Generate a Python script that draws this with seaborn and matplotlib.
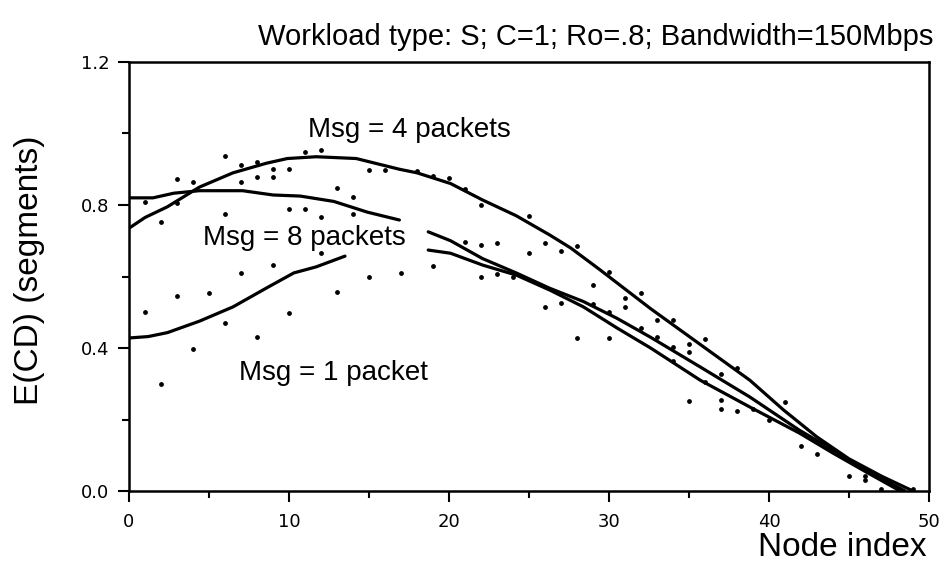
import numpy as np
import pandas as pd
import matplotlib
matplotlib.use("Agg")
import matplotlib.pyplot as plt
from matplotlib.ticker import MultipleLocator, FormatStrFormatter
import seaborn as sns

# Expected collision delay curves per message size (NaN marks a break in the trace)
msg4_x = [0, 1, 2.4, 4.4, 6.5, 8.6, 9.9, 11.7, 14.2, 16.9, 18, 20.1, 22.1, 24.2,
          26.3, 27.6, 29.4, 32.6, 35.7, 38.8, 40.9, 43, 45, 47.1, 49]
msg4_y = [0.735, 0.765, 0.795, 0.85, 0.89, 0.917, 0.93, 0.935, 0.93, 0.90, 0.89,
          0.86, 0.814, 0.77, 0.716, 0.68, 0.62, 0.51, 0.41, 0.31, 0.227, 0.151,
          0.09, 0.04, 0.0]

msg8_x = [0, 1.5, 2.8, 4.4, 7.1, 9, 10.7, 12.8, 14.9, 16.9, np.nan, 18.7, 20.1,
          22.1, 24.2, 26.3, 28.4, 30.5, 32.6, 35.7, 38.8, 41.9, 44, 46, 48.5]
msg8_y = [0.82, 0.82, 0.833, 0.84, 0.84, 0.828, 0.825, 0.81, 0.78, 0.758, np.nan,
          0.725, 0.70, 0.65, 0.61, 0.567, 0.53, 0.483, 0.43, 0.347, 0.263, 0.17,
          0.115, 0.06, 0.0]

msg1_x = [0, 1.2, 2.4, 4.4, 6.5, 8.6, 10.3, 11.7, 13.5, np.nan, 18.7, 20.1, 22.1,
          24.2, 26.3, 28.4, 30.5, 32.6, 35.7, 38.8, 41.9, 44, 46, 48.2]
msg1_y = [0.428, 0.432, 0.443, 0.475, 0.515, 0.568, 0.61, 0.627, 0.657, np.nan,
          0.674, 0.665, 0.632, 0.604, 0.562, 0.515, 0.456, 0.40, 0.31, 0.235,
          0.162, 0.106, 0.055, 0.0]

# Simulated samples per node
dot_x = [1, 1, 2, 2, 3, 3, 3, 4, 4, 5, 6, 6, 6, 7, 7, 7, 8, 8, 8, 9, 9, 9,
         10, 10, 10, 11, 11, 12, 12, 12, 13, 13, 14, 14, 15, 15, 16, 17, 18,
         19, 19, 20, 21, 21, 22, 22, 22, 23, 23, 24, 25, 25, 26, 26, 27, 27,
         28, 28, 29, 29, 30, 30, 30, 31, 31, 32, 32, 33, 33, 34, 34, 34, 35,
         35, 35, 36, 36, 37, 37, 37, 38, 38, 39, 40, 41, 42, 43, 45, 46, 46,
         47, 49]
dot_y = [0.807, 0.50, 0.753, 0.30, 0.872, 0.806, 0.545, 0.863, 0.397, 0.553,
         0.937, 0.776, 0.47, 0.912, 0.863, 0.61, 0.92, 0.878, 0.43, 0.90, 0.878,
         0.632, 0.90, 0.79, 0.498, 0.948, 0.79, 0.954, 0.767, 0.665, 0.848,
         0.557, 0.823, 0.774, 0.898, 0.60, 0.898, 0.61, 0.895, 0.88, 0.63,
         0.875, 0.845, 0.696, 0.80, 0.688, 0.60, 0.695, 0.607, 0.60, 0.77,
         0.666, 0.694, 0.515, 0.671, 0.526, 0.686, 0.428, 0.576, 0.523, 0.613,
         0.50, 0.428, 0.54, 0.515, 0.553, 0.456, 0.478, 0.43, 0.478, 0.403,
         0.364, 0.41, 0.389, 0.253, 0.425, 0.305, 0.327, 0.255, 0.229, 0.344,
         0.224, 0.229, 0.199, 0.25, 0.125, 0.103, 0.043, 0.042, 0.03, 0.006,
         0.005]

labels = ["Msg = 4 packets", "Msg = 8 packets", "Msg = 1 packet"]


def to_frame(name, xs, ys):
    xs = np.asarray(xs, float)
    ys = np.asarray(ys, float)
    seg = np.cumsum(np.isnan(xs))
    df = pd.DataFrame({"node": xs, "ecd": ys, "seg": [f"{name}-{s}" for s in seg]})
    return df.dropna()


curves = pd.concat([
    to_frame("m4", msg4_x, msg4_y),
    to_frame("m8", msg8_x, msg8_y),
    to_frame("m1", msg1_x, msg1_y),
], ignore_index=True)
dots = pd.DataFrame({"node": dot_x, "ecd": dot_y})

sns.set_style("ticks")
plt.rcParams["font.family"] = ["Liberation Sans", "DejaVu Sans"]
plt.rcParams["text.color"] = "black"
plt.rcParams["axes.labelcolor"] = "black"
plt.rcParams["xtick.color"] = "black"
plt.rcParams["ytick.color"] = "black"

fig = plt.figure(figsize=(9.48, 5.86), dpi=100)
ax = fig.add_axes([129 / 948, 1 - 491 / 586, 800 / 948, 429 / 586])

sns.lineplot(data=curves, x="node", y="ecd", units="seg", estimator=None,
             sort=False, color="black", linewidth=2.3, ax=ax)
sns.scatterplot(data=dots, x="node", y="ecd", color="black", s=12,
                linewidth=0, ax=ax, zorder=3)

ax.set_xlim(0, 50)
ax.set_ylim(0, 1.2)
ax.xaxis.set_major_locator(MultipleLocator(10))
ax.xaxis.set_minor_locator(MultipleLocator(5))
ax.yaxis.set_major_locator(MultipleLocator(0.4))
ax.yaxis.set_minor_locator(MultipleLocator(0.2))
ax.yaxis.set_major_formatter(FormatStrFormatter("%.1f"))
ax.tick_params(which="major", direction="out", length=8, width=1.5,
               color="black", labelsize=13, labelcolor="black")
ax.tick_params(which="minor", direction="out", length=5, width=1.5, color="black")
ax.tick_params(axis="x", pad=8)
ax.tick_params(axis="y", pad=6)
for lab in ax.get_xticklabels() + ax.get_yticklabels():
    lab.set_family("DejaVu Sans")
for sp in ax.spines.values():
    sp.set_visible(True)
    sp.set_color("black")
    sp.set_linewidth(1.8)

ax.set_xlabel("")
ax.set_ylabel("")

ax.text(11.2, 0.99, labels[0], fontsize=20, ha="left", va="baseline")
ax.text(4.6, 0.688, labels[1], fontsize=20, ha="left", va="baseline")
ax.text(6.9, 0.31, labels[2], fontsize=20, ha="left", va="baseline")

fig.text(258 / 948, 1 - 45 / 586, "Workload type: S; C=1; Ro=.8; Bandwidth=150Mbps",
         fontsize=21, ha="left", va="baseline")
fig.text(927 / 948, 1 - 556 / 586, "Node index", fontsize=24,
         ha="right", va="baseline")
fig.text(30 / 948, 1 - 270 / 586, "E(CD) (segments)", fontsize=24,
         rotation=90, ha="center", va="center")

fig.savefig("out.png", dpi=100)
